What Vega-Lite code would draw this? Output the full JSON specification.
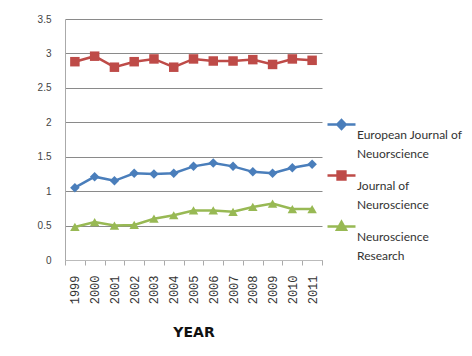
{
  "$schema": "https://vega.github.io/schema/vega-lite/v6.json",
  "width": 257,
  "height": 241,
  "autosize": {"type": "none"},
  "padding": {"left": 65, "top": 19, "right": 150, "bottom": 96},
  "background": "white",
  "config": {"view": {"stroke": null}},
  "data": {
    "values": [
      {"year": "1999", "journal": "European Journal of Neuorscience", "value": 1.05},
      {"year": "2000", "journal": "European Journal of Neuorscience", "value": 1.21},
      {"year": "2001", "journal": "European Journal of Neuorscience", "value": 1.15},
      {"year": "2002", "journal": "European Journal of Neuorscience", "value": 1.26},
      {"year": "2003", "journal": "European Journal of Neuorscience", "value": 1.25},
      {"year": "2004", "journal": "European Journal of Neuorscience", "value": 1.26},
      {"year": "2005", "journal": "European Journal of Neuorscience", "value": 1.36},
      {"year": "2006", "journal": "European Journal of Neuorscience", "value": 1.41},
      {"year": "2007", "journal": "European Journal of Neuorscience", "value": 1.36},
      {"year": "2008", "journal": "European Journal of Neuorscience", "value": 1.28},
      {"year": "2009", "journal": "European Journal of Neuorscience", "value": 1.26},
      {"year": "2010", "journal": "European Journal of Neuorscience", "value": 1.34},
      {"year": "2011", "journal": "European Journal of Neuorscience", "value": 1.39},
      {"year": "1999", "journal": "Journal of Neuroscience", "value": 2.88},
      {"year": "2000", "journal": "Journal of Neuroscience", "value": 2.96},
      {"year": "2001", "journal": "Journal of Neuroscience", "value": 2.80},
      {"year": "2002", "journal": "Journal of Neuroscience", "value": 2.88},
      {"year": "2003", "journal": "Journal of Neuroscience", "value": 2.92},
      {"year": "2004", "journal": "Journal of Neuroscience", "value": 2.80},
      {"year": "2005", "journal": "Journal of Neuroscience", "value": 2.92},
      {"year": "2006", "journal": "Journal of Neuroscience", "value": 2.89},
      {"year": "2007", "journal": "Journal of Neuroscience", "value": 2.89},
      {"year": "2008", "journal": "Journal of Neuroscience", "value": 2.91},
      {"year": "2009", "journal": "Journal of Neuroscience", "value": 2.84},
      {"year": "2010", "journal": "Journal of Neuroscience", "value": 2.92},
      {"year": "2011", "journal": "Journal of Neuroscience", "value": 2.90},
      {"year": "1999", "journal": "Neuroscience Research", "value": 0.48},
      {"year": "2000", "journal": "Neuroscience Research", "value": 0.55},
      {"year": "2001", "journal": "Neuroscience Research", "value": 0.50},
      {"year": "2002", "journal": "Neuroscience Research", "value": 0.51},
      {"year": "2003", "journal": "Neuroscience Research", "value": 0.60},
      {"year": "2004", "journal": "Neuroscience Research", "value": 0.65},
      {"year": "2005", "journal": "Neuroscience Research", "value": 0.72},
      {"year": "2006", "journal": "Neuroscience Research", "value": 0.72},
      {"year": "2007", "journal": "Neuroscience Research", "value": 0.70},
      {"year": "2008", "journal": "Neuroscience Research", "value": 0.77},
      {"year": "2009", "journal": "Neuroscience Research", "value": 0.82},
      {"year": "2010", "journal": "Neuroscience Research", "value": 0.74},
      {"year": "2011", "journal": "Neuroscience Research", "value": 0.74}
    ]
  },
  "encoding": {
    "x": {
      "field": "year",
      "type": "ordinal",
      "scale": {"type": "band", "paddingInner": 0, "paddingOuter": 0},
      "axis": {
        "title": "YEAR",
        "titleFont": "DejaVu Sans",
        "titleFontSize": 14,
        "titleFontWeight": 900,
        "titleColor": "#111",
        "titlePadding": 22,
        "labelAngle": -90,
        "labelFont": "Liberation Mono",
        "labelFontSize": 12,
        "labelColor": "#333",
        "labelPadding": 10,
        "tickBand": "extent",
        "tickSize": 5,
        "tickColor": "#aaa",
        "domainColor": "#bbb",
        "grid": false
      }
    },
    "y": {
      "field": "value",
      "type": "quantitative",
      "scale": {"domain": [0, 3.5]},
      "axis": {
        "title": null,
        "values": [0, 0.5, 1, 1.5, 2, 2.5, 3, 3.5],
        "format": "~g",
        "labelOverlap": false,
        "labelFont": "Liberation Sans",
        "labelFontSize": 10,
        "labelColor": "#444",
        "labelPadding": 14,
        "ticks": false,
        "domainColor": "#aaa",
        "grid": true,
        "gridColor": "#8a8a8a",
        "gridWidth": 1
      }
    },
    "color": {
      "field": "journal",
      "type": "nominal",
      "scale": {
        "domain": ["European Journal of Neuorscience", "Journal of Neuroscience", "Neuroscience Research"],
        "range": ["#4a7ebb", "#be4b48", "#98b954"]
      }
    }
  },
  "layer": [
    {
      "mark": {"type": "line", "strokeWidth": 2.5},
      "encoding": {
        "color": {
          "field": "journal",
          "type": "nominal",
          "legend": {
            "orient": "none",
            "legendX": 261,
            "legendY": 90,
            "title": null,
            "padding": 0,
            "symbolSize": 784,
            "symbolStrokeWidth": 2.5,
            "labelFont": "Lato",
            "labelFontSize": 12,
            "labelColor": "#333",
            "labelOffset": 0,
            "labelBaseline": "middle",
            "rowPadding": -7,
            "labelExpr": "datum.label == 'European Journal of Neuorscience' ? ['European Journal of', 'Neuorscience'] : datum.label == 'Journal of Neuroscience' ? ['Journal of', 'Neuroscience'] : ['Neuroscience', 'Research']",
            "encode": {
              "symbols": {
                "update": {
                  "shape": {"signal": "datum.value == 'European Journal of Neuorscience' ? 'M-1,0H1M0,-0.32L0.3,0L0,0.32L-0.3,0Z' : datum.value == 'Journal of Neuroscience' ? 'M-1,0H1M-0.28,-0.28H0.28V0.28H-0.28Z' : 'M-1,0H1M0,-0.34L0.32,0.24L-0.32,0.24Z'"},
                  "fill": {"signal": "scale('color', datum.value)"},
                  "fillOpacity": {"value": 1}
                }
              },
              "labels": {
                "update": {"lineHeight": {"value": 19}, "dy": {"value": 10}}
              }
            }
          }
        }
      }
    },
    {
      "transform": [{"filter": "datum.journal == 'European Journal of Neuorscience'"}],
      "mark": {"type": "point", "filled": true, "opacity": 1, "shape": "diamond", "size": 90},
      "encoding": {"color": {"field": "journal", "type": "nominal", "legend": null}}
    },
    {
      "transform": [{"filter": "datum.journal == 'Journal of Neuroscience'"}],
      "mark": {"type": "point", "filled": true, "opacity": 1, "shape": "square", "size": 90},
      "encoding": {"color": {"field": "journal", "type": "nominal", "legend": null}}
    },
    {
      "transform": [{"filter": "datum.journal == 'Neuroscience Research'"}],
      "mark": {"type": "point", "filled": true, "opacity": 1, "shape": "triangle-up", "size": 90},
      "encoding": {"color": {"field": "journal", "type": "nominal", "legend": null}}
    }
  ]
}
